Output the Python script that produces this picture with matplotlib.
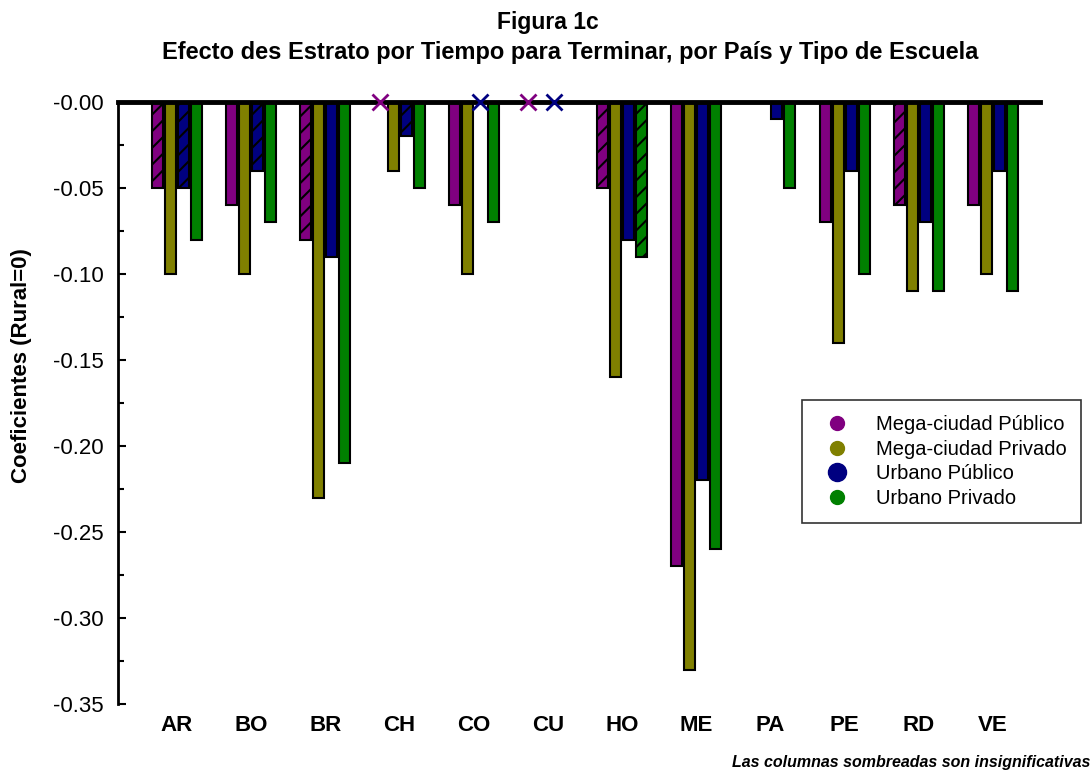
import numpy as np
import matplotlib
matplotlib.use("Agg")
import matplotlib.pyplot as plt
from matplotlib.lines import Line2D

# Countries and coefficient values (nan = no bar, 0 = X marker)
countries = ['AR', 'BO', 'BR', 'CH', 'CO', 'CU', 'HO', 'ME', 'PA', 'PE', 'RD', 'VE']
series_names = ['Mega-ciudad Público', 'Mega-ciudad Privado', 'Urbano Público', 'Urbano Privado']
series_colors = ['#800080', '#808000', '#000080', '#008000']

nan = np.nan
mega_publico = [-0.05, -0.06, -0.08, 0.0, -0.06, 0.0, -0.05, -0.27, nan, -0.07, -0.06, -0.06]
mega_privado = [-0.10, -0.10, -0.23, -0.04, -0.10, nan, -0.16, -0.33, nan, -0.14, -0.11, -0.10]
urbano_publico = [-0.05, -0.04, -0.09, -0.02, 0.0, 0.0, -0.08, -0.22, -0.01, -0.04, -0.07, -0.04]
urbano_privado = [-0.08, -0.07, -0.21, -0.05, -0.07, nan, -0.09, -0.26, -0.05, -0.10, -0.11, -0.11]

# shaded (not significant) columns
insig_mega_publico = ['AR', 'BR', 'HO', 'RD']
insig_mega_privado = []
insig_urbano_publico = ['AR', 'BO', 'CH']
insig_urbano_privado = ['HO']

all_values = [mega_publico, mega_privado, urbano_publico, urbano_privado]
all_insig = [insig_mega_publico, insig_mega_privado, insig_urbano_publico, insig_urbano_privado]

plt.rcParams['font.family'] = ['Liberation Sans', 'DejaVu Sans']
plt.rcParams['hatch.linewidth'] = 1.5

fig = plt.figure(figsize=(10.92, 7.74), dpi=100)
ax = fig.add_axes([118 / 1092, 70 / 774, 922 / 1092, 602 / 774])

x = np.arange(len(countries))
slot = 0.175
width = 0.148

for i, (vals, insig) in enumerate(zip(all_values, all_insig)):
    offset = (i - 1.5) * slot
    for j, v in enumerate(vals):
        if np.isnan(v):
            continue
        xp = x[j] + offset
        if v == 0:
            # zero coefficient drawn as a cross on the axis line
            ax.plot(xp, 0, marker='x', color=series_colors[i], markersize=12,
                    markeredgewidth=2, clip_on=False, zorder=5)
            continue
        hatch = '//' if countries[j] in insig else None
        ax.bar(xp, v, width=width, color=series_colors[i], edgecolor='black',
               linewidth=1.5, hatch=hatch, zorder=3)

ax.set_xlim(-0.795, 11.633)
ax.set_ylim(-0.35, 0)

ax.set_xticks(x)
ax.set_xticklabels(countries, fontsize=16, fontweight='bold')
ax.tick_params(axis='x', length=0, pad=8)

yt = np.arange(-0.35, 0.001, 0.05)
ax.set_yticks(yt)
ax.set_yticks(np.arange(-0.325, 0.0, 0.05), minor=True)
ax.set_yticklabels(['-%.2f' % abs(t) for t in yt], fontsize=16)
ax.tick_params(axis='y', which='major', direction='in', length=6, width=1.5, pad=10)
ax.tick_params(axis='y', which='minor', direction='in', length=4, width=1.5)

ax.spines['right'].set_visible(False)
ax.spines['bottom'].set_visible(False)
ax.spines['left'].set_linewidth(2)
ax.spines['top'].set_linewidth(3.5)
ax.spines['top'].set_zorder(4)

ax.set_ylabel('Coeficientes (Rural=0)', fontsize=16, fontweight='bold')
ax.yaxis.set_label_coords(-0.093, 0.563)

fig.text(548 / 1092, 1 - 22 / 774, 'Figura 1c', ha='center', va='center',
         fontsize=16.5, fontweight='bold')
fig.text(570 / 1092, 1 - 53 / 774,
         'Efecto des Estrato por Tiempo para Terminar, por País y Tipo de Escuela',
         ha='center', va='center', fontsize=17, fontweight='bold')

handles = []
for name, c in zip(series_names, series_colors):
    ms = 13 if c == '#000080' else 10
    handles.append(Line2D([], [], linestyle='none', marker='o', color=c,
                          markersize=ms, label=name))
leg = fig.legend(handles=handles, loc='upper left',
                 bbox_to_anchor=(802 / 1092, 1 - 400 / 774), fontsize=14.5,
                 frameon=True, fancybox=False, edgecolor='black',
                 borderpad=0.75, labelspacing=0.28, handletextpad=0.9,
                 borderaxespad=0, handlelength=2.0)
leg.get_frame().set_linewidth(1.2)

fig.text(1090 / 1092, 1 - 763 / 774, 'Las columnas sombreadas son insignificativas',
         ha='right', va='center', fontsize=11.5, fontweight='bold', style='italic')

fig.savefig('out.png', dpi=100)
